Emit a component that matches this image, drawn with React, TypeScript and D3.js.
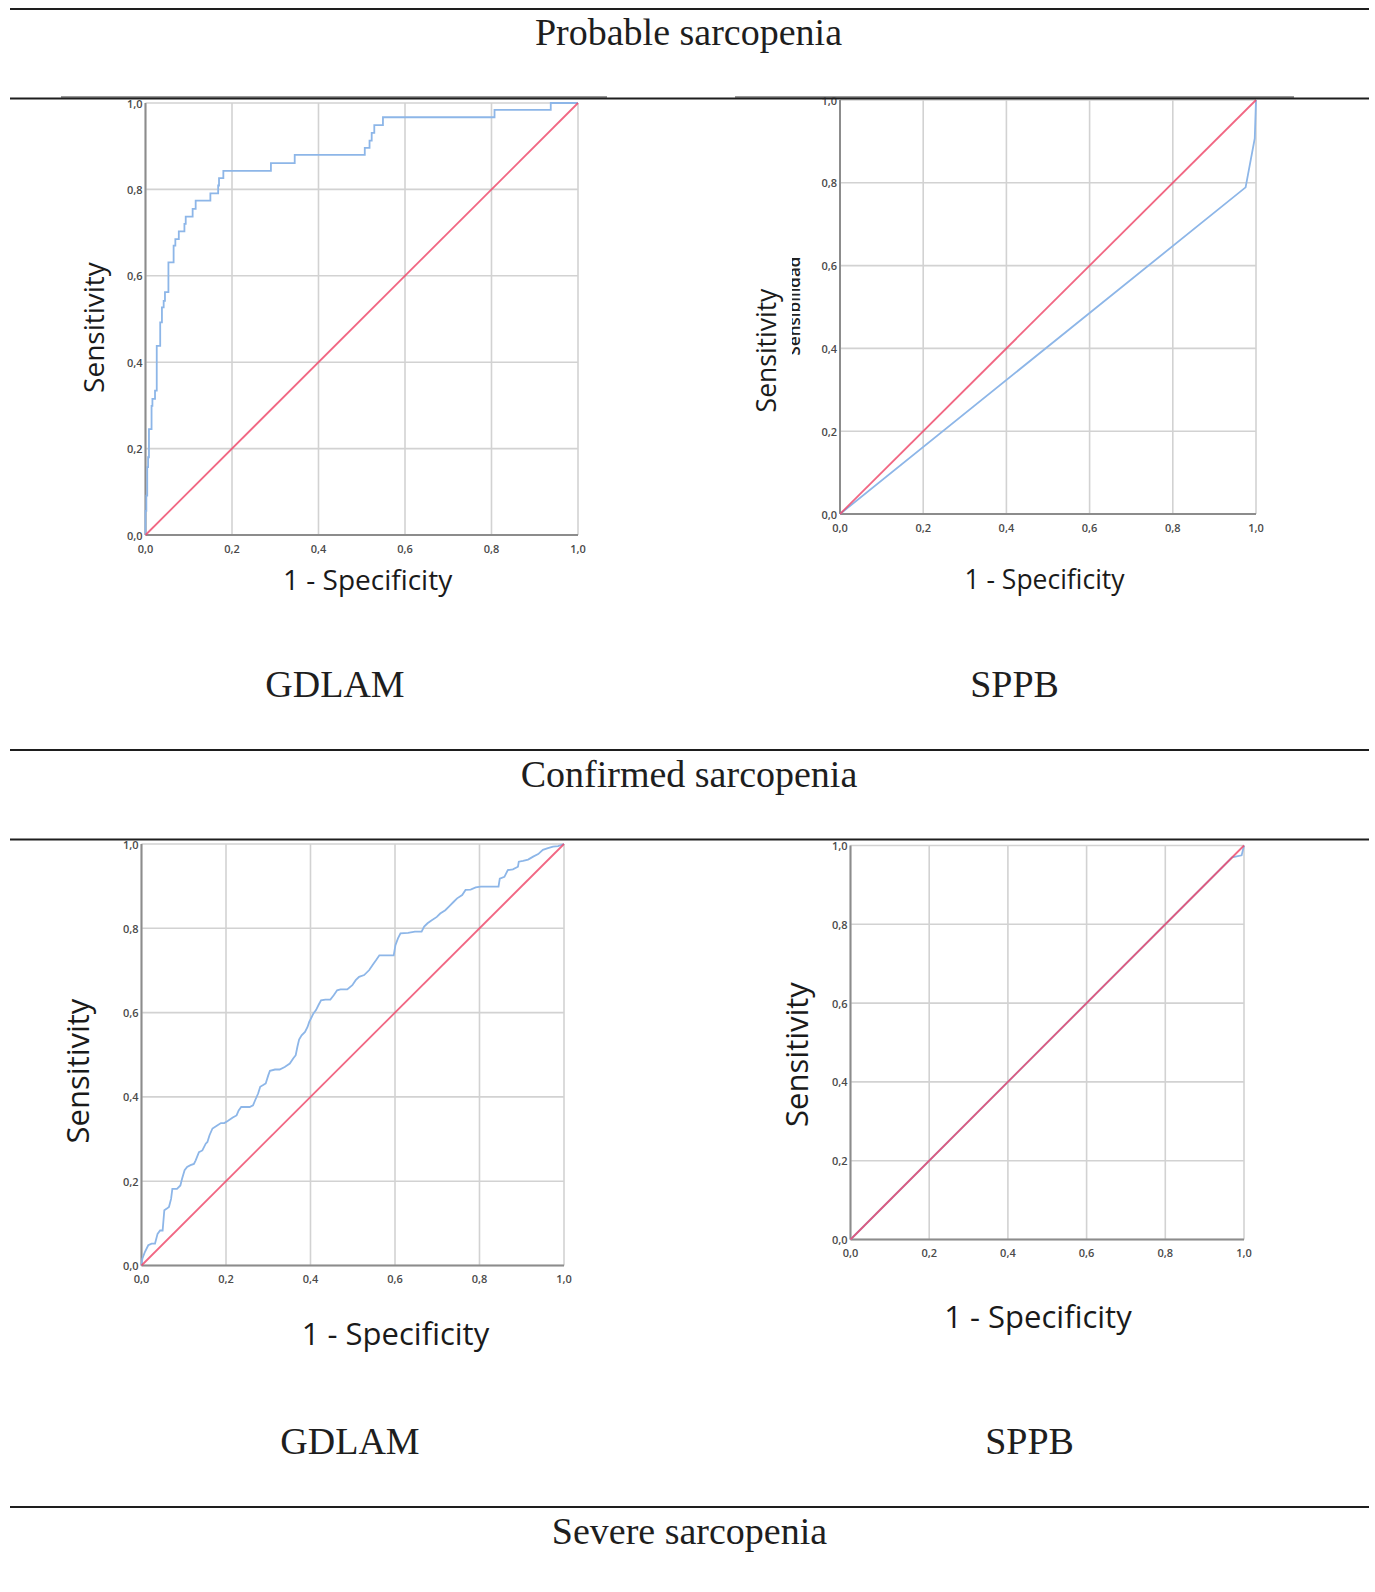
import React from "react";
import * as d3 from "d3";

// axis ticks shared by all four ROC panels
const tickValues = [0, 0.2, 0.4, 0.6, 0.8, 1.0];
const diagonal = [0, 1];

// GDLAM, probable sarcopenia (step curve corners)
const gdlamProbFpr = [0, 0, 0.002, 0.004, 0.006, 0.008, 0.014, 0.016, 0.022, 0.026, 0.034, 0.038, 0.042, 0.045, 0.053, 0.065, 0.069, 0.077, 0.09, 0.093, 0.109, 0.116, 0.15, 0.168, 0.17, 0.18, 0.29, 0.345, 0.507, 0.518, 0.523, 0.529, 0.549, 0.807, 0.937, 1];
const gdlamProbTpr = [0, 0.056, 0.091, 0.157, 0.18, 0.245, 0.299, 0.315, 0.334, 0.438, 0.492, 0.527, 0.542, 0.562, 0.631, 0.67, 0.685, 0.703, 0.72, 0.737, 0.755, 0.774, 0.791, 0.809, 0.826, 0.843, 0.861, 0.88, 0.896, 0.913, 0.931, 0.949, 0.967, 0.984, 1, 1];

// SPPB, probable sarcopenia
const sppbProbFpr = [0, 0.975, 0.997, 1];
const sppbProbTpr = [0, 0.789, 0.907, 1];

// GDLAM, confirmed sarcopenia
const gdlamConfFpr = [0, 0.002, 0.008, 0.016, 0.024, 0.032, 0.038, 0.044, 0.05, 0.054, 0.06, 0.065, 0.07, 0.073, 0.084, 0.092, 0.096, 0.102, 0.108, 0.116, 0.124, 0.128, 0.136, 0.144, 0.152, 0.156, 0.161, 0.168, 0.18, 0.188, 0.196, 0.204, 0.216, 0.225, 0.23, 0.236, 0.256, 0.264, 0.269, 0.276, 0.281, 0.288, 0.294, 0.3, 0.304, 0.316, 0.327, 0.339, 0.351, 0.359, 0.365, 0.369, 0.373, 0.379, 0.387, 0.393, 0.397, 0.401, 0.407, 0.413, 0.419, 0.425, 0.435, 0.447, 0.455, 0.463, 0.471, 0.487, 0.499, 0.507, 0.515, 0.527, 0.539, 0.547, 0.555, 0.563, 0.583, 0.597, 0.601, 0.607, 0.613, 0.631, 0.647, 0.663, 0.669, 0.677, 0.687, 0.699, 0.707, 0.719, 0.727, 0.739, 0.747, 0.759, 0.767, 0.779, 0.791, 0.803, 0.845, 0.848, 0.859, 0.867, 0.879, 0.891, 0.893, 0.903, 0.915, 0.927, 0.939, 0.95, 0.962, 0.974, 0.986, 1];
const gdlamConfTpr = [0, 0.016, 0.032, 0.048, 0.052, 0.052, 0.075, 0.083, 0.083, 0.131, 0.135, 0.139, 0.158, 0.182, 0.182, 0.19, 0.206, 0.226, 0.234, 0.238, 0.241, 0.249, 0.269, 0.273, 0.289, 0.293, 0.309, 0.325, 0.333, 0.338, 0.338, 0.343, 0.351, 0.356, 0.368, 0.376, 0.376, 0.38, 0.392, 0.408, 0.424, 0.428, 0.432, 0.451, 0.462, 0.465, 0.465, 0.471, 0.479, 0.491, 0.499, 0.519, 0.536, 0.546, 0.554, 0.566, 0.578, 0.586, 0.598, 0.606, 0.618, 0.629, 0.631, 0.631, 0.641, 0.653, 0.655, 0.655, 0.665, 0.677, 0.685, 0.689, 0.701, 0.713, 0.724, 0.736, 0.736, 0.736, 0.76, 0.776, 0.788, 0.789, 0.792, 0.792, 0.804, 0.812, 0.819, 0.827, 0.835, 0.843, 0.851, 0.863, 0.871, 0.879, 0.891, 0.892, 0.897, 0.899, 0.899, 0.918, 0.922, 0.938, 0.94, 0.946, 0.958, 0.96, 0.963, 0.97, 0.976, 0.986, 0.99, 0.994, 0.995, 1];

// SPPB, confirmed sarcopenia
const sppbConfFpr = [0, 0.97, 0.994, 1];
const sppbConfTpr = [0, 0.97, 0.975, 1];

const sectionTitles = ["Probable sarcopenia", "Confirmed sarcopenia", "Severe sarcopenia"];
const panelNames = ["GDLAM", "SPPB", "GDLAM", "SPPB"];

const fmt = (v: number) => v.toFixed(1).replace(".", ",");
const SANS = "'Open Sans', 'DejaVu Sans', sans-serif";
const SERIF = "'Liberation Serif', 'Times New Roman', serif";

type PanelProps = {
  x0: number; x1: number; y0: number; y1: number;
  fpr: number[]; tpr: number[]; step?: boolean;
  titleSize: number; xt: [number, number]; yt: [number, number];
  id: string; hidden?: boolean;
};

function Panel(p: PanelProps) {
  const xs = d3.scaleLinear().domain([0, 1]).range([p.x0, p.x1]);
  const ys = d3.scaleLinear().domain([0, 1]).range([p.y0, p.y1]);
  const rocLine = d3.line<[number, number]>()
    .x(d => xs(d[0]))
    .y(d => ys(d[1]))
    .curve(p.step ? d3.curveStepAfter : d3.curveLinear);
  const refLine = d3.line<[number, number]>()
    .x(d => xs(d[0]))
    .y(d => ys(d[1]));
  const roc = p.fpr.map((f, i) => [f, p.tpr[i]] as [number, number]);
  const diag = diagonal.map(v => [v, v] as [number, number]);

  return (
    <g>
      {tickValues.map(t => (
        <g key={"g" + t}>
          <line x1={xs(t)} x2={xs(t)} y1={ys(0)} y2={ys(1)} stroke="#d2d2d2" strokeWidth={1.6} />
          <line x1={xs(0)} x2={xs(1)} y1={ys(t)} y2={ys(t)} stroke="#d2d2d2" strokeWidth={1.6} />
        </g>
      ))}
      <line x1={xs(0)} x2={xs(0)} y1={ys(0)} y2={ys(1)} stroke="#8c8c8c" strokeWidth={2} />
      <line x1={xs(0)} x2={xs(1)} y1={ys(0)} y2={ys(0)} stroke="#8c8c8c" strokeWidth={2} />
      <path d={rocLine(roc) || ""} fill="none" stroke="#8db6e8" strokeWidth={1.8} />
      <path d={refLine(diag) || ""} fill="none" stroke="#ee4668" strokeOpacity={0.82} strokeWidth={1.8} />
      {tickValues.map(t => (
        <text key={"x" + t} x={xs(t)} y={ys(0) + 13} textAnchor="middle" dominantBaseline="central"
          fontFamily={SANS} fontSize={11} fontWeight={600} fill="#4a4a4a">{fmt(t)}</text>
      ))}
      {tickValues.map(t => (
        <text key={"y" + t} x={xs(0) - 3} y={ys(t)} textAnchor="end" dominantBaseline="central"
          fontFamily={SANS} fontSize={11} fontWeight={600} fill="#4a4a4a">{fmt(t)}</text>
      ))}
      <text x={p.xt[0]} y={p.xt[1]} textAnchor="middle" dominantBaseline="central"
        fontFamily={SANS} fontSize={p.titleSize} fill="#1a1a1a">1 - Specificity</text>
      <text transform={`translate(${p.yt[0]},${p.yt[1]}) rotate(-90)`} textAnchor="middle" dominantBaseline="central"
        fontFamily={SANS} fontSize={p.titleSize} fill="#1a1a1a">Sensitivity</text>
      {p.hidden && (
        <g>
          <clipPath id={p.id}>
            <rect x={792} y={250} width={11} height={108} />
          </clipPath>
          <g clipPath={`url(#${p.id})`}>
            <text transform="translate(800,306) rotate(-90)" textAnchor="middle"
              fontFamily={SANS} fontSize={17} fontWeight={600} fill="#222">Sensibilidad</text>
          </g>
        </g>
      )}
    </g>
  );
}

export default function App() {
  const rules = [9, 98.5, 750, 839.5, 1507];
  return (
    <svg width={1375} height={1592} style={{ position: "absolute", left: 0, top: 0, background: "#fff" }}>
      <rect width={1375} height={1592} fill="#fff" />
      <Panel id="c1" x0={145.5} x1={578} y0={535} y1={103} fpr={gdlamProbFpr} tpr={gdlamProbTpr} step
        titleSize={28} xt={[367.6, 579]} yt={[92.5, 327.5]} />
      <Panel id="c2" x0={840} x1={1256} y0={514} y1={100} fpr={sppbProbFpr} tpr={sppbProbTpr}
        titleSize={26.5} xt={[1044.5, 579]} yt={[766, 350.5]} hidden />
      <Panel id="c3" x0={141.5} x1={564} y0={1265.5} y1={844} fpr={gdlamConfFpr} tpr={gdlamConfTpr}
        titleSize={31} xt={[395.5, 1333]} yt={[77, 1071]} />
      <Panel id="c4" x0={850.5} x1={1244} y0={1239.5} y1={845.5} fpr={sppbConfFpr} tpr={sppbConfTpr}
        titleSize={31} xt={[1038, 1316]} yt={[796, 1054.5]} />

      <line x1={61} x2={607} y1={97} y2={97} stroke="#777" strokeWidth={1.5} />
      <line x1={735} x2={1294} y1={97} y2={97} stroke="#777" strokeWidth={1.5} />
      {rules.map(r => (
        <line key={r} x1={10} x2={1369} y1={r} y2={r} stroke="#1e1e1e" strokeWidth={2} />
      ))}

      <text x={688.5} y={45} textAnchor="middle" fontFamily={SERIF} fontSize={38} fill="#1e1e1e">{sectionTitles[0]}</text>
      <text x={689} y={787} textAnchor="middle" fontFamily={SERIF} fontSize={38} fill="#1e1e1e">{sectionTitles[1]}</text>
      <text x={689.5} y={1544} textAnchor="middle" fontFamily={SERIF} fontSize={38} fill="#1e1e1e">{sectionTitles[2]}</text>

      <text x={335} y={697} textAnchor="middle" fontFamily={SERIF} fontSize={38} fill="#1e1e1e">{panelNames[0]}</text>
      <text x={1014.5} y={697} textAnchor="middle" fontFamily={SERIF} fontSize={38} fill="#1e1e1e">{panelNames[1]}</text>
      <text x={350} y={1454} textAnchor="middle" fontFamily={SERIF} fontSize={38} fill="#1e1e1e">{panelNames[2]}</text>
      <text x={1029.5} y={1454} textAnchor="middle" fontFamily={SERIF} fontSize={38} fill="#1e1e1e">{panelNames[3]}</text>
    </svg>
  );
}
